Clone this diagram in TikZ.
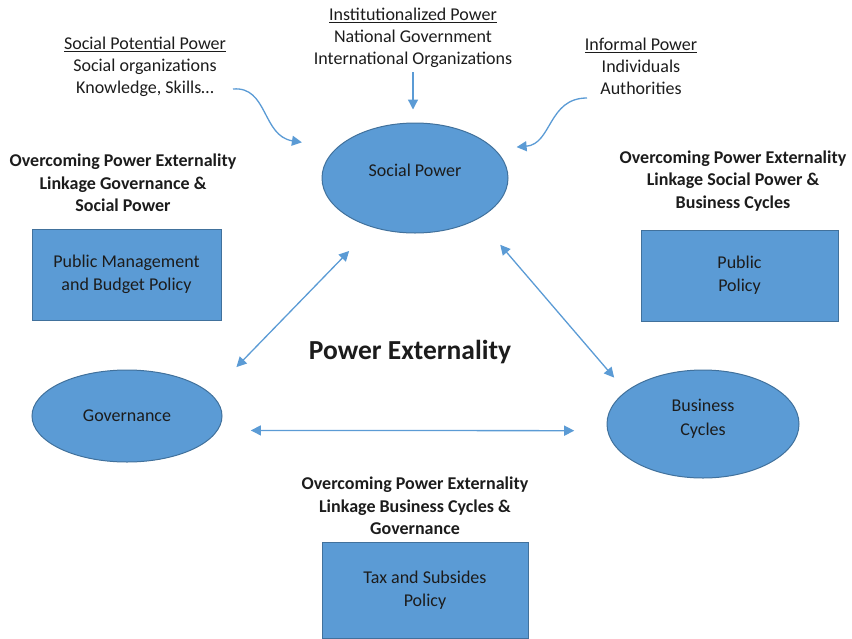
\documentclass[tikz,border=0pt]{standalone}
\usepackage{fontspec}
\setmainfont{Carlito}
\usepackage{tikz}
\usetikzlibrary{shapes.geometric,arrows.meta,positioning,calc}
\definecolor{shapefill}{HTML}{5B9BD5}
\definecolor{shapeline}{HTML}{41719C}
\definecolor{linkblue}{HTML}{5B9BD5}
\definecolor{inktext}{HTML}{1C1C1C}
\tikzset{
    sector/.style={ellipse, draw=shapeline, line width=1pt, fill=shapefill, align=center, inner sep=0pt, font=\fontsize{18}{24}\selectfont, text=inktext},
    policy/.style={rectangle, draw=shapeline, line width=1pt, fill=shapefill, align=center, inner sep=0pt, font=\fontsize{18}{23}\selectfont, text=inktext},
    heading/.style={align=center, inner sep=0pt, font=\bfseries\fontsize{18}{22.5}\selectfont, text=inktext},
    source/.style={align=center, inner sep=0pt, font=\fontsize{18}{22}\selectfont, text=inktext},
    link/.style={draw=linkblue, line width=1.3pt, {Triangle[length=10pt,width=10pt]}-{Triangle[length=10pt,width=10pt]}},
    feed/.style={draw=linkblue, line width=1.3pt, -{Triangle[length=10pt,width=10pt]}},
}

\begin{document}
\begin{tikzpicture}[x=1pt, y=-1pt]
    \useasboundingbox (0,0) rectangle (852,638);

    % the three forces
    \node[sector, minimum width=186pt, minimum height=110pt] (social) at (415,178) {\raisebox{16pt}{Social Power}};
    \node[sector, minimum width=190pt, minimum height=92pt] (gov) at (127,416) {Governance};
    \node[sector, minimum width=192pt, minimum height=108pt, text depth=14pt] (biz) at (703,424) {Business\\Cycles};

    % policy boxes
    \node[policy, minimum width=189pt, minimum height=91pt] (mgmt) at (126.5,274.5) {Public Management\\and Budget Policy};
    \node[policy, minimum width=197pt, minimum height=91pt] (pubpol) at (739.5,275.5) {Public\\Policy};
    \node[policy, minimum width=206pt, minimum height=96pt] (tax) at (425,590) {Tax and Subsides\\Policy};

    % sources of power
    \node[source] (potential) at (145,67) {\underline{Social Potential Power}\\Social organizations\\Knowledge, Skills…};
    \node[source] (inst) at (413,38) {\underline{Institutionalized Power}\\National Government\\International Organizations};
    \node[source] (informal) at (641,66) {\underline{Informal Power}\\Individuals\\Authorities};

    % linkage headings
    \node[heading] (headgov) at (123,183) {Overcoming Power Externality\\Linkage Governance \&\\Social Power};
    \node[heading] (headsoc) at (733,181) {Overcoming Power Externality\\Linkage Social Power \&\\Business Cycles};
    \node[heading] (headbiz) at (415,506) {Overcoming Power Externality\\Linkage Business Cycles \&\\Governance};
    \node[font=\bfseries\fontsize{27.5}{32}\selectfont, text=inktext, inner sep=0pt] (title) at (410,352) {Power Externality};

    \coordinate (potential-out) at (233,89);
    \coordinate (informal-out) at (587,98);

    % arrows
    \draw[feed, shorten <=4pt, shorten >=13pt] (inst.south) -- (inst.south |- social.north);
    \draw[feed, shorten >=35pt] (potential-out) .. controls (268,86) and (262,136) .. (social.159);
    \draw[feed, shorten >=22pt] (informal-out) .. controls (548,98) and (552,144) .. (social.20);
    \draw[link, shorten <=37pt, shorten >=33pt] (gov.15) -- (social.229);
    \draw[link, shorten <=34pt, shorten >=18pt] (social.327) -- (biz.157);
    \draw[link, shorten <=33pt, shorten >=33pt] (gov.351) -- (biz.184);
\end{tikzpicture}
\end{document}
